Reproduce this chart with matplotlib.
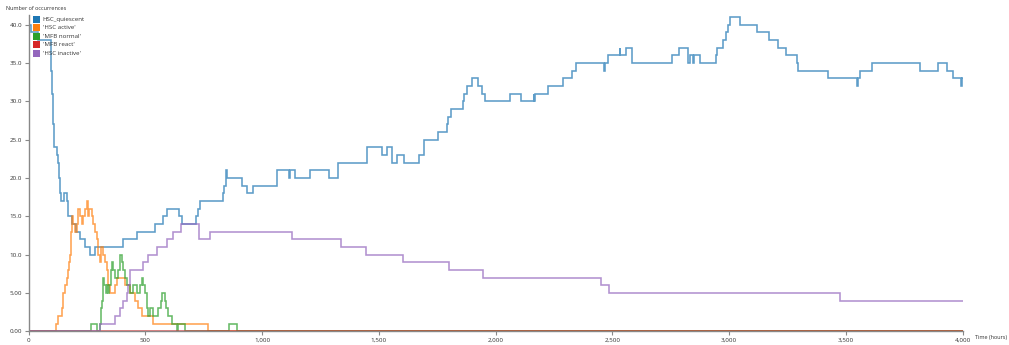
import numpy as np
import matplotlib.pyplot as plt
from matplotlib.patches import Rectangle
from matplotlib.ticker import FuncFormatter, MultipleLocator

# step data: (time in hours, count), each value holds until the next time
quiescent_t = [0, 10, 40, 97, 97.5, 98, 98.5, 99, 100, 101.5, 103, 104, 105, 106.5, 108, 109.5, 111,
               123, 126, 129, 132, 134, 136, 139, 152, 165, 169, 171, 186, 203, 220, 242, 263, 285,
               406, 465, 542, 576, 593, 645, 657, 717, 725, 734, 833, 838, 846, 849, 914, 936, 961,
               1064, 1116, 1118, 1141, 1206, 1287, 1325, 1450, 1514, 1535, 1557, 1578, 1608, 1672,
               1694, 1754, 1792, 1797, 1809, 1861, 1863, 1878, 1899, 1925, 1942, 1955, 2062, 2109,
               2165, 2167, 2169, 2225, 2289, 2327, 2345, 2465, 2468, 2482, 2533, 2535, 2559, 2585,
               2756, 2786, 2825, 2834, 2846, 2850, 2876, 2944, 2949, 2974, 2987, 2996, 3004, 3047,
               3120, 3171, 3210, 3244, 3291, 3296, 3424, 3548, 3551, 3561, 3612, 3818, 3895, 3934,
               3959, 3993, 3997, 4000]
quiescent_v = [40, 39, 38, 37, 36, 35, 34, 33, 32, 31, 30, 29, 28, 27, 26, 25, 24,
               23, 22, 21, 20, 19, 18, 17, 18, 17, 16, 15, 14, 13, 12, 11, 10, 11,
               12, 13, 14, 15, 16, 15, 14, 15, 16, 17, 18, 19, 21, 20, 19, 18, 19,
               21, 20, 21, 20, 21, 20, 22, 24, 23, 24, 22, 23, 22, 23,
               25, 26, 27, 28, 29, 30, 31, 32, 33, 32, 31, 30, 31, 30,
               31, 30, 31, 32, 33, 34, 35, 34, 35, 36, 37, 36, 37, 35,
               36, 37, 35, 36, 35, 36, 35, 36, 37, 38, 39, 40, 41, 40,
               39, 38, 37, 36, 35, 34, 33, 32, 33, 34, 35, 34, 35, 34,
               33, 32, 33, 33]

active_t = [0, 118, 128, 142, 146, 149, 156, 164, 171, 175, 178, 181, 182, 185, 192, 199, 206, 213,
            221, 228, 235, 242, 249, 253, 260, 270, 277, 285, 292, 299, 306, 310, 317, 328, 335,
            342, 349, 370, 377, 413, 435, 456, 470, 486, 533, 769, 4000]
active_v = [0, 1, 2, 3, 4, 5, 6, 7, 8, 9, 10, 12, 13, 15, 14, 13, 14, 16,
            15, 14, 15, 16, 17, 15, 16, 15, 14, 13, 12, 10, 9, 11, 10, 9, 8,
            6, 5, 6, 7, 6, 5, 4, 3, 2, 1, 0, 0]

normal_t = [0, 268, 293, 306, 309, 312, 315, 320, 325, 332, 336, 340, 346, 352, 357, 362, 372,
            383, 392, 399, 406, 413, 420, 435, 449, 463, 478, 485, 492, 499, 506, 513, 520,
            534, 556, 566, 573, 584, 591, 599, 613, 635, 641, 671, 859, 893, 4000]
normal_v = [0, 1, 0, 1, 2, 3, 4, 7, 6, 5, 6, 5, 6, 8, 9, 8, 7,
            8, 10, 9, 8, 7, 6, 5, 6, 5, 6, 7, 6, 5, 3, 2, 3,
            2, 3, 4, 5, 4, 3, 2, 1, 0, 1, 0, 1, 0, 0]

react_t = [0, 4000]
react_v = [0, 0]

inactive_t = [0, 306, 370, 392, 406, 420, 426, 435, 490, 512, 550, 593, 619, 653, 730, 732, 777,
              1128, 1338, 1445, 1604, 1801, 1946, 2452, 2486, 3476, 4000]
inactive_v = [0, 1, 2, 3, 4, 5, 6, 8, 9, 10, 11, 12, 13, 14, 13, 12, 13,
              12, 11, 10, 9, 8, 7, 6, 5, 4, 4]

labels = ["HSC_quiescent", "'HSC active'", "'MFB normal'", "'MFB react'", "'HSC inactive'"]
colors = ["#1f77b4", "#ff7f0e", "#2ca02c", "#d62728", "#9467bd"]
series = [(quiescent_t, quiescent_v), (active_t, active_v), (normal_t, normal_v),
          (react_t, react_v), (inactive_t, inactive_v)]

W, H = 1009, 345
fig = plt.figure(figsize=(W / 100, H / 100), dpi=100)
# axes box in pixels: x 28.5..962.5, y 331.3 (value 0) upwards
ax = fig.add_axes([28.5 / W, (H - 331.3) / H, 934 / W, 316.3 / H])

for (t, v), c in zip(series, colors):
    ax.step(t, v, where='post', color=c, lw=1.15, alpha=0.72, solid_joinstyle='miter')

ax.set_xlim(0, 4000)
ax.set_ylim(0, 41.25)
ax.xaxis.set_major_locator(MultipleLocator(500))
ax.yaxis.set_major_locator(MultipleLocator(5))
ax.xaxis.set_major_formatter(FuncFormatter(lambda x, p: f"{int(x):,}"))

def yfmt(y, p):
    if y == 0:
        return "0.00"
    if y < 10:
        return f"{y:.2f}"
    return f"{y:.1f}"

ax.yaxis.set_major_formatter(FuncFormatter(yfmt))

for s in ['top', 'right']:
    ax.spines[s].set_visible(False)
for s in ['left', 'bottom']:
    ax.spines[s].set_color('#888888')
    ax.spines[s].set_linewidth(1)
ax.tick_params(labelsize=4.5, length=3, width=0.8, color='#888888', labelcolor='#333333', pad=1.5)
for lab in ax.get_yticklabels() + ax.get_xticklabels():
    lab.set_fontfamily('Open Sans')

fig.text(6 / W, 1 - 8 / H, "Number of occurrences", fontsize=4.0, color='#333333',
         va='center', ha='left', family='Open Sans')
fig.text(975 / W, 1 - 337 / H, "Time (hours)", fontsize=4.0, color='#333333',
         va='center', ha='left', family='Open Sans')

# legend: coloured squares with labels
for i, (lab, c) in enumerate(zip(labels, colors)):
    y = 16 + i * 8.4
    fig.add_artist(Rectangle((33.3 / W, 1 - (y + 7) / H), 7 / W, 7 / H,
                             transform=fig.transFigure, color=c, lw=0))
    fig.text(42.7 / W, 1 - (y + 3.5) / H, lab, fontsize=4.4, color='#333333',
             va='center', ha='left', family='Open Sans')

fig.savefig('out.png', dpi=100)
